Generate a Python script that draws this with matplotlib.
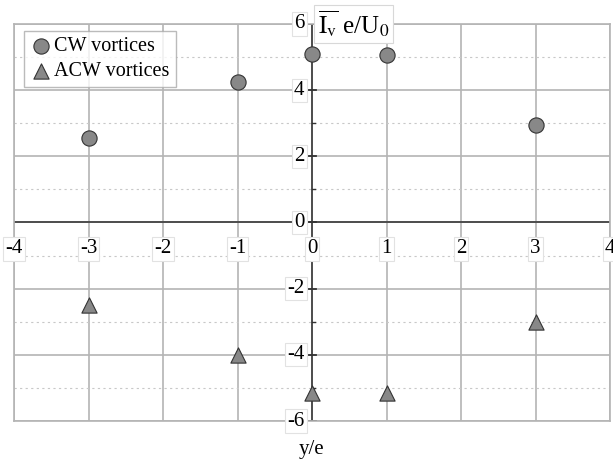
import matplotlib
matplotlib.use("Agg")
import matplotlib.pyplot as plt

# positions y/e and mean values
x_cw = [-3, -1, 0, 1, 3]
y_cw = [2.55, 4.25, 5.1, 5.05, 2.95]
x_acw = [-3, -1, 0, 1, 3]
y_acw = [-2.5, -4.0, -5.15, -5.15, -3.0]
xticks = [-4, -3, -2, -1, 0, 1, 2, 3, 4]
yticks = [-6, -4, -2, 0, 2, 4, 6]

plt.rcParams['font.family'] = ['Liberation Serif', 'DejaVu Serif']
plt.rcParams['mathtext.fontset'] = 'stix'

fig = plt.figure(figsize=(6.13, 4.73), dpi=100)
ax = fig.add_axes([14/613, 1-421/473, 596/613, 397/473])
ax.set_xlim(-4, 4)
ax.set_ylim(-6, 6)

# grid
for v in xticks:
    ax.axvline(v, color='#b4b4b4', lw=1.2, zorder=1)
for v in yticks:
    ax.axhline(v, color='#b4b4b4', lw=1.2, zorder=1)
for v in [-5, -3, -1, 1, 3, 5]:
    ax.axhline(v, color='#c8c8c8', lw=0.8, ls=(0, (2, 3)), zorder=1)

for s in ax.spines.values():
    s.set_color('#b4b4b4')
    s.set_linewidth(1.2)
ax.set_xticks([])
ax.set_yticks([])

# axes lines through origin
ax.axhline(0, color='#444444', lw=1.3, zorder=2)
ax.axvline(0, color='#444444', lw=1.3, zorder=2)
for v in yticks:
    ax.plot([-0.055, 0.055], [v, v], color='#333333', lw=1.3, zorder=2)
for v in [-5, -3, -1, 1, 3, 5]:
    ax.plot([0, 0.035], [v, v], color='#333333', lw=1.0, zorder=2)

box = dict(boxstyle='square,pad=0.1', fc='white', ec='#e2e2e2', lw=0.8)
for v in xticks:
    ax.text(v, -0.8, f'{v}', ha='center', va='center', fontsize=15, bbox=box, zorder=3)
for v in yticks:
    ax.text(-0.1, v, f'{v}', ha='right', va='center', fontsize=15, bbox=box, zorder=3)

ax.scatter(x_cw, y_cw, s=120, marker='o', c='#888888', edgecolors='#333333', linewidths=0.8,
           zorder=4, label='CW vortices')
ax.scatter(x_acw, y_acw, s=120, marker='^', c='#888888', edgecolors='#333333', linewidths=0.8,
           zorder=4, label='ACW vortices')

ax.text(0.08, 6.0, r'$\overline{\mathrm{I}_{\mathrm{v}}}$ e/U$_0$', ha='left', va='center',
        fontsize=18, bbox=dict(boxstyle='square,pad=0.15', fc='white', ec='#d8d8d8', lw=0.8), zorder=5)
fig.text(312/613, 1-449/473, 'y/e', ha='center', va='center', fontsize=15)

leg = ax.legend(loc='upper left', bbox_to_anchor=(0.017, 0.983), fontsize=14.5, frameon=True,
                fancybox=False, edgecolor='#aaaaaa', handletextpad=0.1, borderpad=0.3,
                labelspacing=0.3, handlelength=1.1, borderaxespad=0)
leg.get_frame().set_linewidth(1.0)

fig.savefig('out.png', dpi=100)
